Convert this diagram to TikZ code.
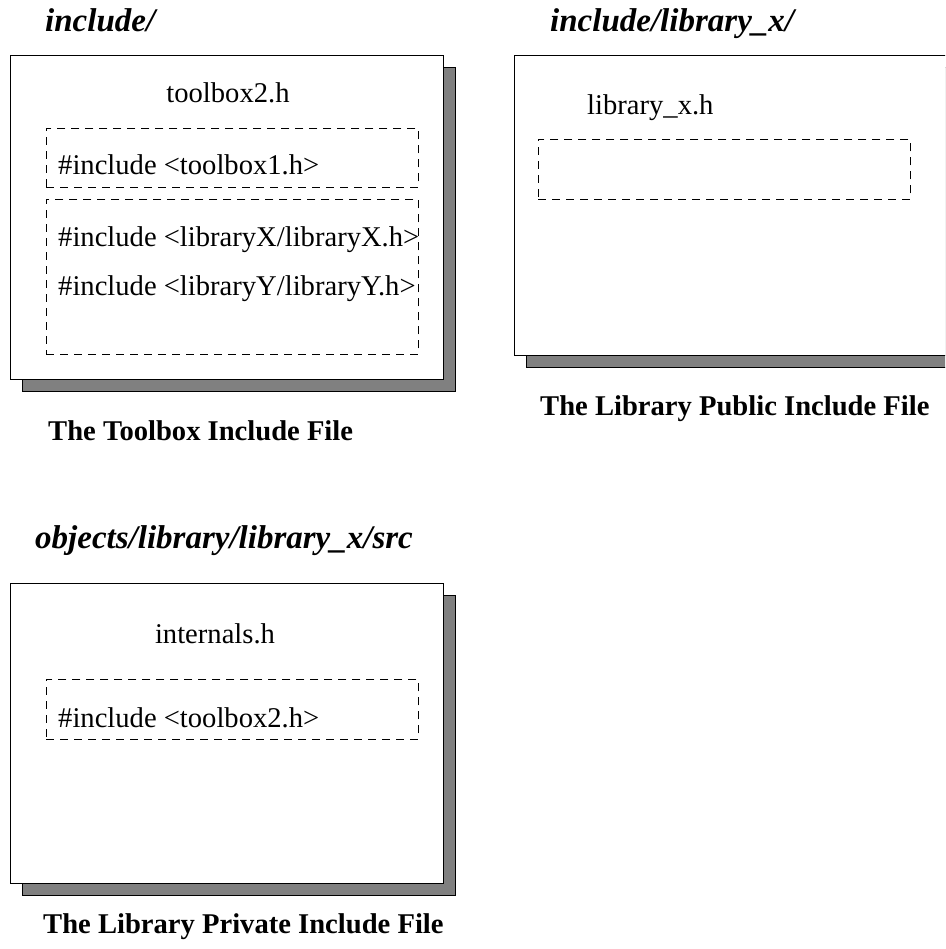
\documentclass[tikz,border=0pt]{standalone}
\usepackage{fontspec}
\setmainfont{Liberation Serif}
\usetikzlibrary{positioning, shadows}

\begin{document}
\begin{tikzpicture}[
    x=1pt, y=-1pt,
    filebox/.style={draw, line width=1pt, fill=white, minimum width=433pt, anchor=north west, inner sep=0pt,
        drop shadow={shadow xshift=12pt, shadow yshift=-12pt, fill=black!50, draw=black, opacity=1}},
    incbox/.style={draw, line width=0.8pt, dash pattern=on 8pt off 6pt, minimum width=372pt, anchor=north west, inner sep=0pt},
    code/.style={font=\fontsize{28.6}{34}\selectfont, anchor=base west, inner sep=0pt},
    dirname/.style={font=\fontsize{33}{40}\selectfont\bfseries\itshape, anchor=base west, inner sep=0pt},
    caption/.style={font=\fontsize{28.6}{34}\selectfont\bfseries, anchor=base west, inner sep=0pt}
]
\clip (0,0) rectangle (945,949);

% Toolbox include file
\node[dirname] (tbdir) at (45,32) {include/};
\node[filebox, minimum height=324pt] (toolbox) at (10,55) {};
\node[code, anchor=base] (tbname) at (228,103) {toolbox2.h};
\node[incbox, minimum height=59pt] (tbown) at (46,128) {};
\node[incbox, minimum height=155pt] (tblibs) at (46,199) {};
\node[code] (inctb1) at (58,175) {\#include <toolbox1.h>};
\node[code] (inclibx) at (58,247) {\#include <libraryX/libraryX.h>};
\node[code] (incliby) at (58,295) {\#include <libraryY/libraryY.h>};
\node[caption] (tbcap) at (48,440) {The Toolbox Include File};

% Library public include file
\node[dirname] (pubdir) at (550,32) {include/library\_x/};
\node[filebox, minimum height=300pt] (public) at (514,55) {};
\node[code] (pubname) at (587,115) {library\_x.h};
\node[incbox, minimum height=60pt] (pubinc) at (538,139) {};
\node[caption] (pubcap) at (540,415) {The Library Public Include File};

% Library private include file
\node[dirname] (privdir) at (35,548) {objects/library/library\_x/src};
\node[filebox, minimum height=300pt] (private) at (10,583) {};
\node[code, anchor=base] (privname) at (215,643) {internals.h};
\node[incbox, minimum height=60pt] (privinc) at (46,679) {};
\node[code] (inctb2) at (58,727) {\#include <toolbox2.h>};
\node[caption] (privcap) at (43,933) {The Library Private Include File};

\end{tikzpicture}
\end{document}
